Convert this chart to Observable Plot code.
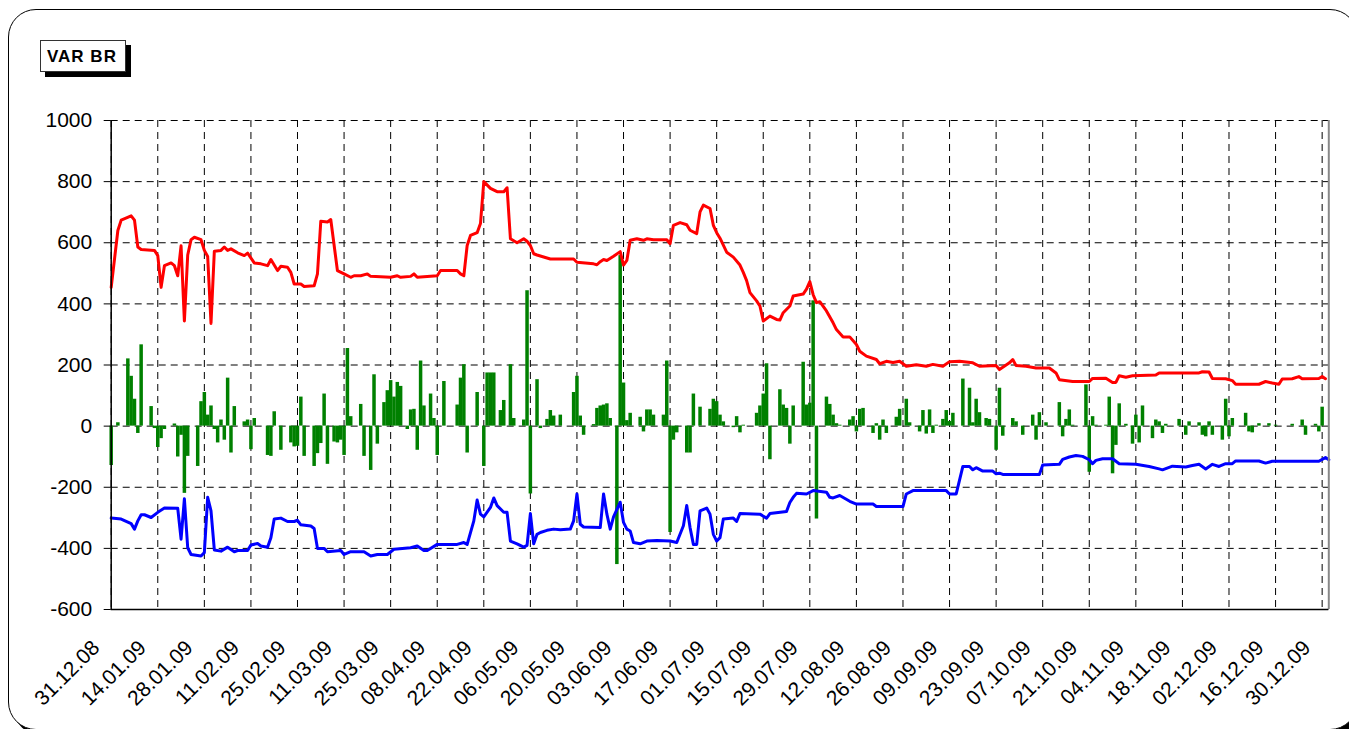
<!DOCTYPE html>
<html>
<head>
<meta charset="utf-8">
<script src="https://cdn.jsdelivr.net/npm/d3@7"></script>
<script src="https://cdn.jsdelivr.net/npm/@observablehq/plot@0.6"></script>
<style>
  html, body { margin: 0; padding: 0; background: #fff; overflow: hidden; }
  #wrap { position: relative; width: 1349px; height: 729px; overflow: hidden; background: #fff; }
  #frame { position: absolute; left: 8px; top: 9px; width: 1350px; height: 721px; box-sizing: border-box;
           border: 1.5px solid #000; border-radius: 28px; box-shadow: 5px 5px 0 #000; background: #fff; }
  #title { position: absolute; left: 40px; top: 40px; width: 78px; height: 30px;
           border: 1px solid #333; background: #fff; box-shadow: 5px 5px 0 #000;
           font: bold 17px Arial, "Liberation Sans", sans-serif; letter-spacing: 1px;
           line-height: 31px; padding-left: 6px; box-sizing: content-box; color: #000; }
  #chart { position: absolute; left: 0; top: 0; }
</style>
</head>
<body>
<div id="wrap">
  <div id="frame"></div>
  <div id="chart"></div>
  <div id="title">VAR BR</div>
</div>
<script>
// Days are counted from 31.12.2008 (day 0).
const baseDate = "31.12.08";
const dayEnd = 366;

const tickLabels = ["31.12.08","14.01.09","28.01.09","11.02.09","25.02.09","11.03.09","25.03.09",
  "08.04.09","22.04.09","06.05.09","20.05.09","03.06.09","17.06.09","01.07.09","15.07.09",
  "29.07.09","12.08.09","26.08.09","09.09.09","23.09.09","07.10.09","21.10.09","04.11.09",
  "18.11.09","02.12.09","16.12.09","30.12.09"];
const yTicks = [-600,-400,-200,0,200,400,600,800,1000];

// Upper VaR bound (red): [day, value]
const upper = [[0,454],[2,640],[3,674],[6,688],[7,674],[8,586],[9,578],[13,575],[14,558],[15,454],[16,525],[18,534],[19,525],[20,492],[21,590],[22,344],[23,560],[24,610],[25,618],[27,610],[28,575],[29,555],[30,336],[31,572],[33,575],[34,586],[35,575],[36,580],[38,567],[40,558],[41,566],[43,534],[45,531],[47,525],[48,545],[50,509],[51,523],[53,520],[54,503],[55,465],[57,465],[58,457],[61,459],[62,498],[63,670],[65,668],[66,676],[68,509],[70,498],[72,487],[73,492],[75,492],[77,498],[78,490],[84,487],[86,492],[87,487],[90,490],[91,498],[92,487],[98,492],[99,509],[104,509],[105,498],[106,492],[107,591],[108,624],[110,633],[111,663],[112,800],[114,778],[116,767],[118,767],[119,780],[120,613],[122,600],[124,613],[125,605],[126,591],[127,564],[128,560],[132,547],[139,547],[140,536],[145,531],[146,528],[147,538],[148,545],[149,542],[151,556],[153,571],[154,527],[155,542],[156,608],[158,613],[160,608],[161,613],[163,610],[167,610],[168,597],[169,657],[171,666],[173,659],[174,641],[176,630],[177,701],[178,723],[180,712],[181,657],[182,633],[183,615],[185,569],[187,553],[189,527],[190,503],[191,476],[192,437],[194,410],[195,393],[196,344],[198,360],[200,349],[201,347],[202,371],[204,393],[205,426],[208,432],[209,448],[210,473],[211,430],[212,404],[213,407],[215,377],[217,338],[218,316],[220,292],[222,292],[224,267],[225,245],[227,229],[230,218],[231,204],[233,212],[235,208],[237,212],[239,196],[242,201],[245,196],[247,202],[250,196],[252,211],[255,212],[259,207],[261,196],[266,198],[267,185],[270,207],[271,218],[272,198],[275,196],[278,190],[282,190],[284,174],[285,152],[289,146],[294,146],[295,156],[299,157],[301,143],[302,143],[303,165],[305,160],[307,165],[314,167],[315,174],[327,174],[328,178],[330,177],[331,156],[335,155],[337,149],[338,137],[345,137],[347,146],[349,141],[351,137],[352,154],[355,155],[357,162],[358,155],[363,156],[364,162],[365,155]];

// Lower VaR bound (blue): [day, value]
const lower = [[0,-301],[3,-304],[6,-319],[7,-337],[8,-310],[9,-290],[10,-290],[12,-299],[14,-282],[16,-268],[20,-269],[21,-370],[22,-238],[23,-398],[24,-420],[27,-425],[28,-414],[29,-233],[30,-277],[31,-405],[33,-409],[35,-396],[37,-411],[38,-407],[41,-407],[42,-389],[44,-384],[45,-392],[47,-396],[48,-365],[49,-304],[51,-301],[53,-312],[55,-312],[56,-308],[57,-323],[60,-327],[61,-335],[62,-400],[64,-400],[65,-411],[69,-407],[70,-420],[72,-411],[76,-411],[78,-425],[80,-420],[83,-420],[85,-403],[90,-398],[92,-392],[94,-407],[95,-407],[98,-387],[104,-387],[106,-381],[107,-387],[109,-310],[110,-242],[111,-288],[112,-297],[114,-266],[115,-235],[116,-260],[118,-282],[119,-282],[120,-376],[122,-385],[124,-396],[125,-390],[126,-286],[127,-385],[128,-354],[129,-348],[131,-341],[133,-337],[135,-339],[138,-337],[139,-310],[140,-222],[141,-321],[142,-330],[147,-332],[148,-222],[149,-288],[150,-337],[151,-297],[153,-249],[154,-315],[155,-337],[156,-343],[157,-381],[159,-385],[161,-376],[164,-374],[168,-376],[170,-381],[172,-326],[173,-260],[174,-332],[175,-387],[176,-387],[177,-277],[179,-268],[180,-288],[181,-354],[182,-376],[183,-365],[184,-304],[187,-301],[188,-312],[189,-286],[195,-288],[197,-301],[198,-286],[203,-279],[204,-250],[205,-233],[206,-220],[209,-222],[211,-211],[215,-216],[216,-233],[217,-235],[219,-227],[222,-246],[224,-255],[229,-255],[230,-263],[238,-263],[239,-222],[241,-211],[251,-211],[252,-222],[254,-222],[256,-132],[258,-132],[259,-143],[260,-136],[262,-147],[265,-147],[266,-156],[267,-154],[268,-158],[279,-158],[280,-127],[285,-125],[286,-109],[288,-101],[290,-96],[292,-99],[294,-110],[295,-123],[296,-112],[298,-107],[301,-107],[303,-123],[308,-125],[312,-132],[315,-140],[316,-143],[319,-131],[323,-134],[325,-129],[327,-125],[329,-140],[331,-125],[333,-132],[335,-123],[337,-123],[338,-114],[345,-114],[347,-121],[349,-115],[363,-115],[365,-103],[366,-110]];

// Daily result (green bars): [day, value]
const daily = [[0,-129],[2,11],[5,220],[6,163],[7,88],[8,-24],[9,266],[12,64],[13,-8],[14,-70],[15,-41],[16,-11],[19,7],[20,-101],[21,-30],[22,-220],[23,-99],[26,-132],[27,80],[28,110],[29,36],[30,66],[31,-11],[32,-55],[33,20],[34,-46],[35,157],[36,-88],[37,64],[40,14],[41,20],[42,-77],[43,25],[47,-96],[48,-99],[49,47],[51,-79],[54,-55],[55,-68],[56,-66],[57,95],[58,-99],[61,-132],[62,-90],[63,-57],[64,105],[65,-125],[67,-52],[68,-55],[69,-46],[70,-96],[71,254],[72,31],[75,71],[76,-99],[78,-145],[79,168],[80,-59],[82,77],[83,116],[84,149],[85,95],[86,143],[87,130],[89,-11],[90,53],[91,55],[92,-79],[93,213],[94,66],[96,105],[97,25],[98,-96],[100,146],[104,69],[105,157],[106,201],[107,-88],[110,110],[112,-132],[113,174],[114,174],[115,174],[117,51],[118,84],[120,201],[121,25],[124,20],[125,443],[126,-222],[128,152],[129,-8],[131,22],[132,51],[133,33],[135,36],[139,110],[140,163],[141,33],[142,-30],[145,5],[146,58],[147,66],[148,69],[149,73],[150,25],[152,-453],[153,558],[154,141],[155,18],[156,42],[159,29],[160,-19],[161,53],[162,53],[163,36],[166,36],[167,213],[168,-348],[169,-46],[170,-22],[173,-88],[174,-88],[175,105],[177,62],[180,55],[181,88],[182,80],[183,36],[184,14],[187,-5],[188,31],[189,-22],[190,3],[194,42],[195,66],[196,105],[197,204],[198,-110],[201,119],[202,69],[203,58],[204,-59],[205,66],[208,209],[209,69],[210,75],[211,410],[212,-304],[215,95],[216,71],[217,36],[218,8],[219,3],[222,20],[223,31],[224,-19],[225,55],[226,58],[229,-24],[230,8],[231,-46],[232,20],[233,-24],[236,29],[237,55],[239,88],[240,11],[243,-19],[244,51],[245,-26],[246,53],[247,-24],[248,3],[250,22],[251,51],[252,15],[253,42],[256,154],[258,124],[259,11],[260,88],[261,44],[263,25],[264,22],[266,-79],[267,124],[268,-33],[271,25],[272,14],[274,-30],[277,36],[278,-46],[279,44],[281,11],[285,77],[286,-35],[287,22],[288,53],[289,3],[293,135],[294,-151],[295,31],[296,3],[299,3],[300,95],[301,-156],[302,-63],[303,73],[305,6],[307,-59],[308,36],[309,-55],[310,66],[313,-41],[314,20],[315,14],[316,-24],[317,6],[321,22],[323,-30],[324,14],[327,11],[328,-30],[329,-35],[330,14],[331,-30],[334,-46],[335,88],[336,-35],[337,25],[341,42],[342,-19],[343,-22],[345,8],[348,8],[350,3],[355,6],[358,20],[359,-30],[362,6],[363,-19],[364,62]];

const parse = d3.utcParse("%d.%m.%y");
const fmt = d3.utcFormat("%d.%m.%y");
const base = parse(baseDate);
const toDate = d => d3.utcDay.offset(base, d);
const tickDates = tickLabels.map(parse);

const font = "Arial, 'Liberation Sans', sans-serif";

const chart = Plot.plot({
  width: 1349,
  height: 729,
  marginLeft: 110.7,
  marginRight: 20.7,
  marginTop: 120,
  marginBottom: 120,
  style: { background: "transparent", fontFamily: font, color: "#000" },
  x: { type: "utc", domain: [toDate(0), toDate(dayEnd)] },
  y: { domain: [-600, 1000] },
  marks: [
    Plot.gridY(yTicks, { stroke: "#000", strokeOpacity: 1, strokeWidth: 1, strokeDasharray: "7,5" }),
    Plot.gridX(tickDates, { stroke: "#000", strokeOpacity: 1, strokeWidth: 1, strokeDasharray: "7,5" }),
    Plot.ruleX(daily, { x: d => toDate(d[0]), y1: 0, y2: d => d[1], stroke: "#008000", strokeWidth: 3.5 }),
    Plot.line(upper, { x: d => toDate(d[0]), y: d => d[1], stroke: "#ff0000", strokeWidth: 3 }),
    Plot.line(lower, { x: d => toDate(d[0]), y: d => d[1], stroke: "#0000ff", strokeWidth: 3 }),
    Plot.ruleX([toDate(dayEnd)], { stroke: "#888", strokeWidth: 2 }),
    Plot.ruleX([toDate(0)], { stroke: "#000", strokeWidth: 1.5 }),
    Plot.ruleY([-600], { stroke: "#000", strokeWidth: 1.5 }),
    Plot.axisY(yTicks, { tickSize: 7, tickPadding: 12, fontSize: 21, label: null, tickFormat: d => String(d) }),
    Plot.axisX(tickDates, { tickFormat: fmt, tickRotate: -45, tickSize: 0, tickPadding: 29, dx: -21,
                            textAnchor: "end", lineAnchor: "top", fontSize: 21, label: null })
  ]
});
document.getElementById("chart").appendChild(chart);
</script>
</body>
</html>
